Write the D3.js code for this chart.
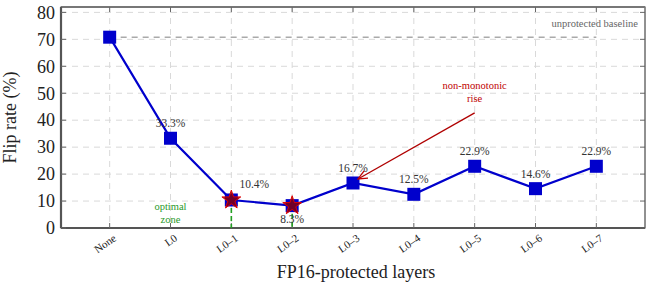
<!DOCTYPE html>
<html>
<head>
<meta charset="utf-8">
<script src="https://cdn.jsdelivr.net/npm/d3@7"></script>
<style>
  body { margin: 0; background: #fff; }
</style>
</head>
<body>
<div id="chart"></div>
<script>
// data
const layers = ["None", "L0", "L0\u20131", "L0\u20132", "L0\u20133", "L0\u20134", "L0\u20135", "L0\u20136", "L0\u20137"];
const flipRates = [70.8, 33.3, 10.4, 8.3, 16.7, 12.5, 22.9, 14.6, 22.9];
const pointLabels = ["", "33.3%", "10.4%", "8.3%", "16.7%", "12.5%", "22.9%", "14.6%", "22.9%"];
const yTicks = [0, 10, 20, 30, 40, 50, 60, 70, 80];
const baseline = 70.8;
const optimalIdx = [2, 3];
const riseIdx = 4;

const FONT = '"Liberation Serif"';

const W = 652, H = 290;
const margin = {top: 7, right: 7, bottom: 62, left: 61};
const width = W - margin.left - margin.right;
const height = H - margin.top - margin.bottom;

const root = d3.select("body").append("svg")
    .attr("width", W)
    .attr("height", H);
const svg = root.append("g")
    .attr("transform", `translate(${margin.left},${margin.top})`);

const x = d3.scaleLinear().domain([-0.8, layers.length - 1 + 0.8]).range([0, width]);
const y = d3.scaleLinear().domain([0, 82]).range([height, 0]);

// grid
svg.append("g").selectAll("line.gy")
    .data(yTicks.slice(1))
    .enter().append("line")
    .attr("x1", 0).attr("x2", width)
    .attr("y1", d => y(d)).attr("y2", d => y(d))
    .attr("stroke", "#d9d9d9").attr("stroke-width", 1).attr("stroke-dasharray", "6,5");
svg.append("g").selectAll("line.gx")
    .data(layers)
    .enter().append("line")
    .attr("x1", (d, i) => x(i)).attr("x2", (d, i) => x(i))
    .attr("y1", 0).attr("y2", height)
    .attr("stroke", "#d9d9d9").attr("stroke-width", 1).attr("stroke-dasharray", "6,5");

// frame
svg.append("rect")
    .attr("x", 0).attr("y", 0).attr("width", width).attr("height", height)
    .attr("fill", "none").attr("stroke", "#222").attr("stroke-width", 1);
svg.append("line").attr("x1", 0).attr("x2", width).attr("y1", 0).attr("y2", 0)
    .attr("stroke", "#777").attr("stroke-width", 2.2);
svg.append("line").attr("x1", 0).attr("x2", width).attr("y1", height).attr("y2", height)
    .attr("stroke", "#555").attr("stroke-width", 2.2);
svg.append("line").attr("x1", 0).attr("x2", 0).attr("y1", 0).attr("y2", height)
    .attr("stroke", "#555").attr("stroke-width", 2.2);

// axes
const yAxis = svg.append("g")
    .call(d3.axisLeft(y).tickValues(yTicks).tickSize(0).tickPadding(6));
yAxis.select(".domain").remove();
yAxis.selectAll("text").attr("font-size", 18).attr("fill", "#222");

const xAxis = svg.append("g")
    .attr("transform", `translate(0,${height})`)
    .call(d3.axisBottom(x).tickValues(d3.range(layers.length)).tickFormat(i => layers[i]).tickSize(0).tickPadding(6));
xAxis.select(".domain").remove();
xAxis.selectAll("text")
    .attr("font-size", 11).attr("fill", "#222")
    .attr("text-anchor", "end")
    .attr("dx", "-0.1em").attr("dy", "0.7em")
    .attr("transform", "rotate(-35)");

// inward tick marks on all sides
const tickColor = "#666";
yTicks.forEach(t => {
    svg.append("line").attr("x1", 0).attr("x2", 5).attr("y1", y(t)).attr("y2", y(t)).attr("stroke", tickColor);
    svg.append("line").attr("x1", width - 5).attr("x2", width).attr("y1", y(t)).attr("y2", y(t)).attr("stroke", tickColor);
});
layers.forEach((d, i) => {
    svg.append("line").attr("x1", x(i)).attr("x2", x(i)).attr("y1", 0).attr("y2", 5).attr("stroke", tickColor);
    svg.append("line").attr("x1", x(i)).attr("x2", x(i)).attr("y1", height - 5).attr("y2", height).attr("stroke", tickColor);
});

// axis titles
svg.append("text")
    .attr("transform", `translate(${-45},${height / 2}) rotate(-90)`)
    .attr("text-anchor", "middle")
    .attr("font-size", 18).attr("fill", "#222")
    .text("Flip rate (%)");
svg.append("text")
    .attr("x", width / 2 + 3).attr("y", height + 50)
    .attr("text-anchor", "middle")
    .attr("font-size", 18).attr("fill", "#222")
    .text("FP16-protected layers");

// baseline
svg.append("line")
    .attr("x1", x(0)).attr("x2", x(layers.length - 1))
    .attr("y1", y(baseline)).attr("y2", y(baseline))
    .attr("stroke", "#aaa").attr("stroke-width", 1.6).attr("stroke-dasharray", "6,5");
svg.append("text")
    .attr("x", width - 7).attr("y", y(baseline) - 10)
    .attr("text-anchor", "end")
    .attr("font-size", 10.5).attr("fill", "#666")
    .text("unprotected baseline");

// optimal zone guides
svg.append("g").selectAll("line.opt")
    .data(optimalIdx)
    .enter().append("line")
    .attr("x1", i => x(i)).attr("x2", i => x(i))
    .attr("y1", i => y(flipRates[i])).attr("y2", height)
    .attr("stroke", "#22a022").attr("stroke-width", 1.6).attr("stroke-dasharray", "5,3");
const optText = svg.append("text")
    .attr("x", x(1)).attr("y", y(6.5))
    .attr("text-anchor", "middle")
    .attr("font-size", 10.5).attr("fill", "#2a9a2a");
optText.append("tspan").attr("x", x(1)).text("optimal");
optText.append("tspan").attr("x", x(1)).attr("dy", 13).text("zone");

// line + markers
svg.append("path")
    .datum(flipRates)
    .attr("fill", "none")
    .attr("stroke", "#0000cc")
    .attr("stroke-width", 2.2)
    .attr("d", d3.line().x((d, i) => x(i)).y(d => y(d)));

svg.append("g").selectAll("rect")
    .data(flipRates)
    .enter().append("rect")
    .attr("x", (d, i) => x(i) - 6.5)
    .attr("y", d => y(d) - 6.5)
    .attr("width", 13).attr("height", 13)
    .attr("fill", "#0000cc");

svg.append("g").selectAll("path.star")
    .data(optimalIdx)
    .enter().append("path")
    .attr("transform", i => `translate(${x(i)},${y(flipRates[i])})`)
    .attr("d", d3.symbol().type(d3.symbolStar).size(110))
    .attr("fill", "#8b0000").attr("fill-opacity", 0.8)
    .attr("stroke", "#e00000").attr("stroke-width", 1);

// value labels
const labelOffsets = {2: [23, -12], 3: [0, 17]};
svg.append("g").selectAll("text")
    .data(flipRates)
    .enter().append("text")
    .attr("x", (d, i) => x(i) + (labelOffsets[i] ? labelOffsets[i][0] : 0))
    .attr("y", (d, i) => y(d) + (labelOffsets[i] ? labelOffsets[i][1] : -11))
    .attr("text-anchor", "middle")
    .attr("font-size", 11.5).attr("fill", "#333")
    .text((d, i) => pointLabels[i]);

// non-monotonic annotation
svg.append("defs").append("marker")
    .attr("id", "arr").attr("viewBox", "0 0 10 10")
    .attr("refX", 9).attr("refY", 5)
    .attr("markerWidth", 8).attr("markerHeight", 8)
    .attr("orient", "auto")
    .append("path").attr("d", "M0,1 L9,5 L0,9").attr("fill", "none").attr("stroke", "#c00000").attr("stroke-width", 1.2);
svg.append("line")
    .attr("x1", x(6)).attr("y1", y(42.7))
    .attr("x2", x(riseIdx) + 5).attr("y2", y(flipRates[riseIdx]) - 4)
    .attr("stroke", "#b00000").attr("stroke-width", 1.3)
    .attr("marker-end", "url(#arr)");
const riseText = svg.append("text")
    .attr("x", x(6)).attr("y", y(51.5))
    .attr("text-anchor", "middle")
    .attr("font-size", 10.5).attr("fill", "#c00000");
riseText.append("tspan").attr("x", x(6)).text("non-monotonic");
riseText.append("tspan").attr("x", x(6)).attr("dy", 13).text("rise");

// serif everywhere
root.selectAll("text").style("font-family", FONT);
root.selectAll("g").attr("font-family", null);
</script>
</body>
</html>
